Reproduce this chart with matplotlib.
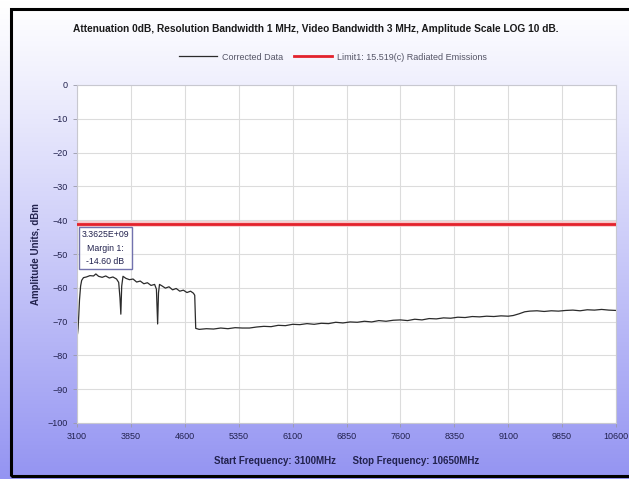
"""Spectrum analyser scan: corrected data vs 15.519(c) radiated emissions limit."""

import matplotlib

matplotlib.use("Agg")
import matplotlib.pyplot as plt
import numpy as np
from matplotlib.patches import Rectangle

# sweep (MHz) and corrected amplitude (dBm)
freq_mhz = [
    3100, 3108, 3115, 3125, 3135, 3150, 3165, 3190, 3230, 3280, 3330, 3362.5,
    3400, 3450, 3500, 3550, 3600, 3650, 3680, 3698, 3710, 3722, 3740, 3780,
    3830, 3880, 3930, 3980, 4030, 4080, 4130, 4180, 4205, 4222, 4234, 4248,
    4280, 4330, 4380, 4430, 4480, 4530, 4580, 4630, 4680, 4720, 4738, 4752,
    4800, 4900, 5000, 5100, 5200, 5300, 5400, 5500, 5600, 5700, 5800, 5900,
    6000, 6100, 6200, 6300, 6400, 6500, 6600, 6700, 6800, 6900, 7000, 7100,
    7200, 7300, 7400, 7500, 7600, 7700, 7800, 7900, 8000, 8100, 8200, 8300,
    8400, 8500, 8600, 8700, 8800, 8900, 9000, 9100, 9170, 9250, 9330, 9400,
    9500, 9600, 9700, 9800, 9900, 10000, 10100, 10200, 10300, 10400, 10500, 10600,
]
amplitude_dbm = [
    -74.5, -73.5, -72.0, -68.0, -63.5, -59.5, -57.8, -57.0, -56.8, -56.4, -56.5, -55.9,
    -56.6, -56.9, -56.5, -57.1, -56.8, -57.4, -58.4, -63.0, -67.8, -59.5, -56.6, -57.2,
    -57.6, -57.4, -58.3, -58.0, -58.8, -58.5, -59.3, -59.0, -60.4, -70.7, -61.5, -59.0,
    -59.4, -60.1, -59.7, -60.6, -60.2, -61.0, -60.7, -61.4, -61.0, -61.6, -62.2, -72.0,
    -72.3, -72.1, -72.2, -71.9, -72.1, -71.8, -71.9, -71.9, -71.6, -71.4, -71.5, -71.1,
    -71.2, -70.8, -70.9, -70.6, -70.8, -70.5, -70.6, -70.2, -70.4, -70.1, -70.2, -69.9,
    -70.1, -69.7, -69.9, -69.6, -69.5, -69.7, -69.3, -69.5, -69.1, -69.2, -68.9, -69.0,
    -68.7, -68.8, -68.5, -68.6, -68.4, -68.5, -68.3, -68.4, -68.2, -67.7, -67.1, -66.9,
    -66.8, -67.0, -66.8, -66.9, -66.7, -66.6, -66.8, -66.5, -66.6, -66.4, -66.6, -66.7,
]
limit_dbm = -41.25
margin_db = -14.60
peak_hz_label = "3.3625E+09"

x_ticks = [3100, 3850, 4600, 5350, 6100, 6850, 7600, 8350, 9100, 9850, 10600]
y_ticks = [0, -10, -20, -30, -40, -50, -60, -70, -80, -90, -100]

title = ("Attenuation 0dB, Resolution Bandwidth 1 MHz, Video Bandwidth 3 MHz, "
         "Amplitude Scale LOG 10 dB.")
navy = "#22224e"
fam = ["Liberation Sans", "DejaVu Sans"]

fig = plt.figure(figsize=(6.29, 4.79), dpi=100)

# white-to-lavender vertical gradient behind everything
bg = fig.add_axes([0, 0, 1, 1], zorder=-10)
t = np.linspace(0, 1, 256)[:, None] ** 1.1
top = np.array([1.0, 1.0, 1.0])
bottom = np.array([148, 148, 242]) / 255
grad = top[None, None, :] * (1 - t[..., None]) + bottom[None, None, :] * t[..., None]
bg.imshow(grad, aspect="auto", extent=[0, 1, 0, 1])
bg.set_axis_off()
fig.patches.append(Rectangle((10.5 / 629, 3 / 479), 1.2, 467 / 479, transform=fig.transFigure,
                             fill=False, edgecolor="black", lw=2.2, zorder=5))

ax = fig.add_axes([77 / 629, 56 / 479, 539 / 629, 338 / 479])
ax.set_facecolor("white")
ax.plot(freq_mhz, amplitude_dbm, color="#2b2b2b", lw=0.9, label="Corrected Data")
ax.axhline(limit_dbm, color="#f7c4c7", lw=4.0, zorder=2)
ax.axhline(limit_dbm, color="#e3222c", lw=2.0, zorder=3,
           label="Limit1: 15.519(c) Radiated Emissions")

ax.text(3495, -43.0, f"{peak_hz_label}\nMargin 1:\n{margin_db:.2f} dB", ha="center", va="top",
        multialignment="center", fontsize=6.3, family=fam, color=navy, linespacing=1.6,
        zorder=4, bbox=dict(boxstyle="square,pad=0.35", facecolor="white", alpha=0.85,
                            edgecolor="#5a5aa0", lw=1.0))

ax.set_xlim(3100, 10600)
ax.set_ylim(-100, 0)
ax.set_xticks(x_ticks)
ax.set_yticks(y_ticks)
ax.tick_params(labelsize=6.5, colors="#9a9aa8", labelcolor=navy, length=3, width=0.6)
for lab in ax.get_xticklabels() + ax.get_yticklabels():
    lab.set_family(fam)
ax.grid(True, color="#dcdcdc", lw=0.8)
for s in ax.spines.values():
    s.set_color("#c8c8d0")
    s.set_linewidth(0.8)

ax.set_ylabel("Amplitude Units, dBm", fontsize=7, fontweight="bold", color=navy,
              family=fam, labelpad=5)
ax.set_xlabel("Start Frequency: 3100MHz      Stop Frequency: 10650MHz", fontsize=7,
              fontweight="bold", color=navy, family=fam, labelpad=11)

fig.text(316 / 629, 1 - 29 / 479, title, ha="center", va="center", fontsize=7.25,
         fontweight="bold", color="#1a1a1a", family=fam)
leg = fig.legend(loc="center", bbox_to_anchor=(333 / 629, 1 - 57 / 479), ncol=2, frameon=False,
                 handlelength=4.2, columnspacing=1.2, handletextpad=0.6,
                 prop={"family": fam, "size": 6.5})
for txt in leg.get_texts():
    txt.set_color("#555566")

fig.savefig("out.png", dpi=100)
